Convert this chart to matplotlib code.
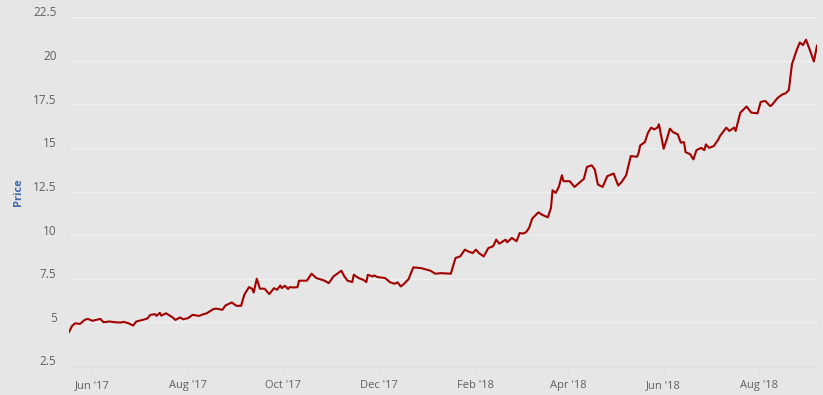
import matplotlib
matplotlib.use("Agg")
import matplotlib.pyplot as plt
import matplotlib.dates as mdates
import matplotlib.transforms as mtransforms
import numpy as np
import pandas as pd

# closing price
dates = [
    "2017-05-17", "2017-05-19", "2017-05-21", "2017-05-24", "2017-05-27", "2017-05-29",
    "2017-06-01", "2017-06-06", "2017-06-08", "2017-06-12", "2017-06-15", "2017-06-19",
    "2017-06-21", "2017-06-24", "2017-06-27", "2017-06-29", "2017-07-03", "2017-07-06",
    "2017-07-08", "2017-07-11", "2017-07-12", "2017-07-14", "2017-07-15", "2017-07-18",
    "2017-07-22", "2017-07-24", "2017-07-27", "2017-07-29", "2017-08-01", "2017-08-04",
    "2017-08-08", "2017-08-11", "2017-08-13", "2017-08-17", "2017-08-19", "2017-08-23",
    "2017-08-25", "2017-08-29", "2017-09-01", "2017-09-04", "2017-09-06", "2017-09-09",
    "2017-09-11", "2017-09-12", "2017-09-14", "2017-09-16", "2017-09-19", "2017-09-22",
    "2017-09-25", "2017-09-27", "2017-09-29", "2017-09-30", "2017-10-02", "2017-10-04",
    "2017-10-05", "2017-10-08", "2017-10-10", "2017-10-11", "2017-10-16", "2017-10-19",
    "2017-10-22", "2017-10-27", "2017-10-30", "2017-11-02", "2017-11-06", "2017-11-07",
    "2017-11-09", "2017-11-11", "2017-11-14", "2017-11-15", "2017-11-18", "2017-11-21",
    "2017-11-23", "2017-11-24", "2017-11-27", "2017-11-28", "2017-11-30", "2017-12-05",
    "2017-12-08", "2017-12-11", "2017-12-13", "2017-12-15", "2017-12-17", "2017-12-20",
    "2017-12-23", "2017-12-28", "2018-01-03", "2018-01-06", "2018-01-10", "2018-01-16",
    "2018-01-19", "2018-01-22", "2018-01-25", "2018-01-27", "2018-01-30", "2018-02-01",
    "2018-02-03", "2018-02-06", "2018-02-09", "2018-02-12", "2018-02-14", "2018-02-16",
    "2018-02-20", "2018-02-21", "2018-02-24", "2018-02-27", "2018-03-01", "2018-03-03",
    "2018-03-05", "2018-03-07", "2018-03-09", "2018-03-13", "2018-03-15", "2018-03-19",
    "2018-03-21", "2018-03-22", "2018-03-24", "2018-03-26", "2018-03-28", "2018-03-29",
    "2018-04-02", "2018-04-05", "2018-04-08", "2018-04-11", "2018-04-13", "2018-04-16",
    "2018-04-18", "2018-04-20", "2018-04-23", "2018-04-26", "2018-04-30", "2018-05-03",
    "2018-05-05", "2018-05-08", "2018-05-11", "2018-05-15", "2018-05-16", "2018-05-17",
    "2018-05-20", "2018-05-22", "2018-05-24", "2018-05-26", "2018-05-28", "2018-05-29",
    "2018-06-01", "2018-06-03", "2018-06-05", "2018-06-07", "2018-06-10", "2018-06-12",
    "2018-06-14", "2018-06-15", "2018-06-18", "2018-06-20", "2018-06-22", "2018-06-25",
    "2018-06-27", "2018-06-28", "2018-06-30", "2018-07-03", "2018-07-06", "2018-07-07",
    "2018-07-11", "2018-07-13", "2018-07-16", "2018-07-17", "2018-07-20", "2018-07-24",
    "2018-07-27", "2018-07-31", "2018-08-02", "2018-08-05", "2018-08-08", "2018-08-09",
    "2018-08-13", "2018-08-16", "2018-08-18", "2018-08-20", "2018-08-22", "2018-08-25",
    "2018-08-27", "2018-08-29", "2018-08-31", "2018-09-01", "2018-09-03", "2018-09-05",
    "2018-09-07",
]
prices = [
    4.45, 4.80, 4.95, 4.91, 5.14, 5.20,
    5.09, 5.20, 5.01, 5.05, 5.01, 4.99,
    5.03, 4.95, 4.82, 5.05, 5.14, 5.22,
    5.43, 5.47, 5.37, 5.55, 5.39, 5.52,
    5.30, 5.14, 5.28, 5.18, 5.24, 5.43,
    5.37, 5.47, 5.52, 5.75, 5.79, 5.72,
    5.97, 6.14, 5.95, 5.95, 6.58, 7.02,
    6.93, 6.71, 7.50, 6.93, 6.93, 6.62,
    6.96, 6.87, 7.11, 6.96, 7.10, 6.91,
    7.02, 7.00, 7.02, 7.39, 7.39, 7.79,
    7.54, 7.40, 7.25, 7.63, 7.90, 7.96,
    7.63, 7.39, 7.31, 7.73, 7.54, 7.44,
    7.31, 7.73, 7.63, 7.69, 7.60, 7.54,
    7.31, 7.21, 7.29, 7.06, 7.20, 7.48,
    8.15, 8.11, 7.96, 7.79, 7.82, 7.79,
    8.69, 8.78, 9.17, 9.07, 8.97, 9.17,
    8.97, 8.78, 9.26, 9.36, 9.74, 9.51,
    9.74, 9.59, 9.84, 9.65, 10.12, 10.09,
    10.16, 10.41, 10.95, 11.31, 11.18, 11.02,
    11.56, 12.57, 12.42, 12.76, 13.43, 13.09,
    13.09, 12.76, 12.99, 13.22, 13.91, 14.00,
    13.76, 12.90, 12.76, 13.38, 13.53, 12.84,
    13.03, 13.42, 14.53, 14.49, 14.72, 15.14,
    15.33, 15.87, 16.16, 16.06, 16.16, 16.35,
    14.95, 15.49, 16.10, 15.90, 15.78, 15.30,
    15.33, 14.76, 14.63, 14.34, 14.87, 15.00,
    14.87, 15.20, 15.00, 15.10, 15.49, 15.68,
    16.16, 15.97, 16.16, 15.97, 17.02, 17.37,
    17.02, 16.98, 17.63, 17.69, 17.40, 17.44,
    17.88, 18.07, 18.13, 18.32, 19.80, 20.60,
    21.04, 20.89, 21.20, 20.95, 20.47, 19.95,
    20.86,
]

y_ticks = [2.5, 5, 7.5, 10, 12.5, 15, 17.5, 20, 22.5]
y_tick_labels = ["2.5", "5", "7.5", "10", "12.5", "15", "17.5", "20", "22.5"]

bg = "#e6e6e6"
plt.rcParams["font.family"] = ["Open Sans", "DejaVu Sans"]

x = pd.to_datetime(dates)

fig = plt.figure(figsize=(8.23, 3.95), dpi=100, facecolor=bg)
ax = fig.add_axes([69 / 823, 29 / 395, 748 / 823, 349 / 395], facecolor=bg)

ax.plot(x, prices, color="#a30000", linewidth=1.5, solid_joinstyle="round", zorder=3)

ax.set_xlim(x[0], x[-1])
ax.set_ylim(2.5, 22.5)

ax.set_yticks(y_ticks)
ax.set_yticklabels(y_tick_labels)
ax.yaxis.grid(True, color="#f0f0f0", linewidth=1.0)
ax.set_axisbelow(True)

ax.xaxis.set_major_locator(mdates.MonthLocator(bymonth=[2, 4, 6, 8, 10, 12]))
ax.xaxis.set_major_formatter(mdates.DateFormatter("%b '%y"))

for s in ["top", "right", "left"]:
    ax.spines[s].set_visible(False)
ax.spines["bottom"].set_color("#d8dde3")
ax.spines["bottom"].set_linewidth(1.0)

ax.tick_params(axis="y", length=0, pad=9, labelsize=8.5, labelcolor="#606060")
ax.tick_params(axis="x", length=5, width=0.8, color="#d8dde3", pad=5,
               labelsize=8, labelcolor="#606060")

# lift y labels a bit above their grid lines
for lbl in ax.get_yticklabels():
    lbl.set_transform(lbl.get_transform() + mtransforms.ScaledTranslation(0, 4 / 72, fig.dpi_scale_trans))

fig.text(18 / 823, 1 - 192 / 395, "Price", rotation=90, ha="center", va="center",
         fontsize=8, fontweight="bold", color="#3e6aa8")

fig.savefig("out.png", dpi=100, facecolor=bg)
